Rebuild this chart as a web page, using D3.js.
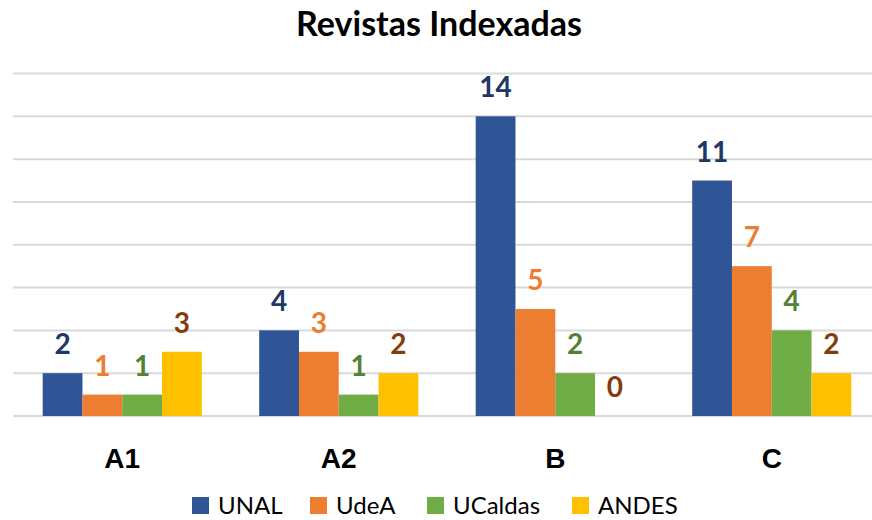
<!DOCTYPE html>
<html>
<head>
<meta charset="utf-8">
<script src="https://cdn.jsdelivr.net/npm/d3@7"></script>
<style>
  body { margin: 0; background: #fff; }
  svg { font-family: Lato, "Open Sans", sans-serif; }
</style>
</head>
<body>
<div id="chart"></div>
<script>
var width = 872;
var height = 520;

// data
var categories = ["A1", "A2", "B", "C"];
var series = ["UNAL", "UdeA", "UCaldas", "ANDES"];
var unal = [2, 4, 14, 11];
var udea = [1, 3, 5, 7];
var ucaldas = [1, 1, 2, 4];
var andes = [3, 2, 0, 2];
var yTicks = [0, 2, 4, 6, 8, 10, 12, 14, 16];

var barColors = ["#2F5597", "#ED7D31", "#70AD47", "#FFC000"];
var labelColors = ["#203864", "#ED7D31", "#548235", "#843C0C"];

var values = [unal, udea, ucaldas, andes];
var rows = [];
categories.forEach(function (c, i) {
    series.forEach(function (s, j) {
        rows.push({ cat: c, series: s, idx: j, value: values[j][i] });
    });
});

var svg = d3.select("#chart")
    .append("svg")
    .attr("width", width)
    .attr("height", height);

var x = d3.scaleBand()
    .domain(categories)
    .range([14, 880])
    .paddingInner(0.265)
    .paddingOuter(0.1325);

var xs = d3.scaleBand()
    .domain(series)
    .range([0, x.bandwidth()]);

var y = d3.scaleLinear()
    .domain([0, 16])
    .range([416, 73.5]);

// title
svg.append("text")
    .attr("x", 439)
    .attr("y", 36)
    .attr("text-anchor", "middle")
    .style("font-size", "34px")
    .style("font-weight", "bold")
    .style("fill", "#000")
    .text("Revistas Indexadas");

// gridlines
svg.append("g")
    .selectAll("line")
    .data(yTicks)
    .join("line")
    .attr("x1", 13)
    .attr("x2", width)
    .attr("y1", d => y(d))
    .attr("y2", d => y(d))
    .style("stroke", "#d9d9d9")
    .style("stroke-width", 2);

// bars
svg.append("g")
    .selectAll("rect")
    .data(rows)
    .join("rect")
    .attr("x", d => x(d.cat) + xs(d.series))
    .attr("y", d => y(d.value))
    .attr("width", xs.bandwidth())
    .attr("height", d => y(0) - y(d.value))
    .style("fill", d => barColors[d.idx]);

// value labels
svg.append("g")
    .selectAll("text")
    .data(rows)
    .join("text")
    .attr("x", d => x(d.cat) + xs(d.series) + xs.bandwidth() / 2)
    .attr("y", d => y(d.value) - 19)
    .attr("text-anchor", "middle")
    .style("font-size", "28px")
    .style("font-weight", "bold")
    .style("fill", d => labelColors[d.idx])
    .text(d => d.value);

// category axis labels
var xAxis = svg.append("g")
    .attr("transform", "translate(0," + 416 + ")")
    .call(d3.axisBottom(x).tickSize(0).tickPadding(32));
xAxis.select(".domain").remove();
xAxis.selectAll("text")
    .attr("font-family", null)
    .attr("font-size", null)
    .style("font-size", "28px")
    .style("font-weight", "bold")
    .style("fill", "#000");

// legend
var legendX = [192, 310, 427, 572];
var legend = svg.append("g")
    .selectAll("g")
    .data(series)
    .join("g")
    .attr("transform", (d, i) => "translate(" + legendX[i] + ",497)");

legend.append("rect")
    .attr("width", 17)
    .attr("height", 17)
    .style("fill", (d, i) => barColors[i]);

legend.append("text")
    .attr("x", 26)
    .attr("y", 17)
    .style("font-size", "24px")
    .style("fill", "#000")
    .text(d => d);
</script>
</body>
</html>
